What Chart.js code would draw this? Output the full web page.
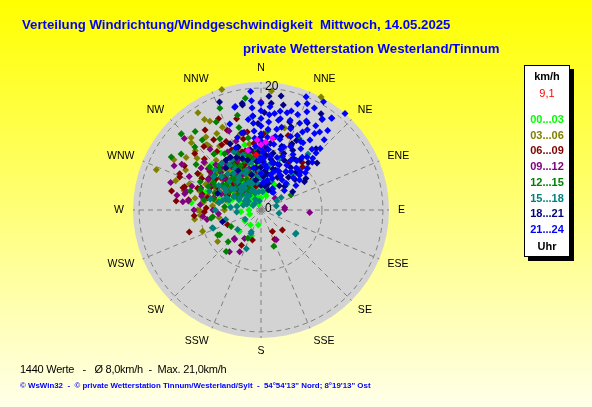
<!DOCTYPE html>
<html><head><meta charset="utf-8">
<script src="https://cdn.jsdelivr.net/npm/chart.js@4.4.1/dist/chart.umd.min.js"></script>
<style>
html,body{margin:0;padding:0;width:592px;height:407px;overflow:hidden;background:#ffff80;}
#wrap{position:relative;width:592px;height:407px;font-family:"Liberation Sans",Arial,sans-serif;}
canvas{position:absolute;left:0;top:0;z-index:0;}
.t{position:absolute;white-space:pre;line-height:1;z-index:2;}
#t1{left:22px;top:18px;font-weight:bold;font-size:13.2px;color:#0000ff;}
#t2{left:243px;top:42px;font-weight:bold;font-size:13.2px;color:#0000ff;}
#f1{left:20px;top:364px;font-size:11px;letter-spacing:-0.25px;color:#000;}
#f2{left:20px;top:382px;font-size:7.9px;font-weight:bold;color:#0000ff;}
#leg{position:absolute;left:524px;top:65px;width:44px;height:190px;border:1px solid #000;background:#fff;box-shadow:4px 4px 0 #000;z-index:2;}
#leg div{position:absolute;left:0;width:44px;text-align:center;font-size:11px;font-weight:bold;line-height:1;white-space:nowrap;}
</style></head>
<body><div id="wrap">
<canvas id="c" width="592" height="407"></canvas>
<div class="t" id="t1">Verteilung Windrichtung/Windgeschwindigkeit  Mittwoch, 14.05.2025</div>
<div class="t" id="t2">private Wetterstation Westerland/Tinnum</div>
<div class="t" id="f1">1440 Werte   -   Ø 8,0km/h  -  Max. 21,0km/h</div>
<div class="t" id="f2">© WsWin32  -  © private Wetterstation Tinnum/Westerland/Sylt  -  54°54'13" Nord; 8°19'13" Ost</div>
<div id="leg"></div>
</div>
<script>
// ---- data: [direction in degrees, speed in km/h] ----
const h00_03 = [[276,11.5],[190,2.5],[236,3.2],[345,7.6],[322,7.9],[302,10],[325,11.4],[28,4.7],[358,8.2],[11,7],[312,3.3],[265,3.3],[300,6],[305,7.5],[310,5],[315,6.5],[318,4],[320,8.5],[323,3],[327,5.5],[330,7],[333,2.5],[335,4.5],[338,6],[340,9],[342,3.5],[345,5],[348,2],[350,6.5],[352,4],[355,3],[358,5.5],[0,2],[3,4],[6,6],[10,3],[15,5],[20,2.5],[295,8],[290,5],[285,7],[280,4],[298,3],[308,9.5],[313,11],[318,10],[328,9.8],[336,10.5],[300,2],[325,1.5],[340,1],[270,2],[250,2],[215,3],[200,4.5],[225,5],[315,2.5],[332,8],[346,11],[300,12],[307,4],[312,6],[317,8],[322,5],[326,7],[331,4],[336,8],[341,5.5],[293,6.5],[303,9],[288,9.5],[283,5.5],[310,10.8],[320,12],[330,10],
 [305,3],[309,6.8],[314,4.5],[319,2],[324,6],[329,3],[334,6.5],[339,2.5],[344,4],[349,7.5],[353,5],[357,7],[2,6],[8,5],[298,4.5],[303,5.5],[308,2.5],[316,9],[321,9.5],[326,4],[331,9],[337,3],[343,8],[347,6],[296,9.5],[291,3.5]];
const h03_06 = [[342,20.8],[327,19],[328,17.5],[330,16.8],[323,15],[321,13.4],[314,15.9],[298,14],[289,14.8],[309,13.5],[269,10],[250,10.2],[234,8.8],[28,21],[48,10.3],[16,14],[5,19.6],[291,18.4],[270,10.4],[265,10],[330,14.5],[320.5,13.8],[295,10],[300,11.5],[305,9],[310,12],[315,8],[318,11],[320,6.5],[325,10],[328,7.5],[332,9],[335,12],[338,6],[340,10.5],[345,8],[350,11],[355,7],[300,7],[285,9],[280,11],[275,8],[290,12.5],[310,6],[320,14],[335,15],[345,13],[305,15],[312,14.5],[0,9],[10,12],[20,10],[260,7],[270,6],[262,11],[302,5],[308,8],[313,10],[322,8.5],[327,12.5],[333,5.5],[343,9.5],[348,6],[296,8.5],[286,6],[278,9.5],[316,16.5],[300,16.5],[284,13],
 [294,8],[299,9.5],[304,6.5],[307,7],[311,9.5],[316,5.5],[319,9],[323,6],[326,8.5],[331,5],[334,7],[339,8],[344,4.5],[349,9],[353,6.5],[358,10],[287,10.5],[281,7.5]];
const h06_09 = [[253,12.3],[286,13.3],[292,14.4],[326,13.9],[333,12.6],[337,14.2],[152,4],[155,5.3],[133,4.8],[44,9.8],[209,6.6],[196,5.1],[294,14.6],[287,13.1],[310.5,14.3],[268,9.3],[246,6],[25,11.7],[41,10.3],[295,9],[300,12],[303,7],[307,10.5],[312,12.5],[316,8],[320,10],[323,12],[327,6],[330,9],[334,11],[338,7.5],[342,10],[346,12],[350,8.5],[354,11],[358,9],[5,10],[310,6],[318,14],[300,14.5],[285,10],[278,12],[272,9],[265,11],[295,6],[305,4.5],[325,4],[340,5],[350,13],[2,12.5],[15,8],[30,9],[20,13],[345,15.5],[335,16.5],[325,16],[280,7],[290,8],[298,11],[309,8.5],[314,6.5],[321,7.5],[329,12.5],[336,9.5],[344,7],[352,6],[282,15],[276,14],
 [297,8],[301,10],[304,9],[308,6],[311,7.5],[315,10],[319,5.5],[322,9],[326,4.5],[331,7],[333,8.5],[337,5],[341,8],[345,10],[348,4],[353,9.5],[357,6],[289,11],[283,9],[293,6]];
const h09_12 = [[93,8],[84,3.9],[50,3],[153,5.5],[313,17.2],[282,12.8],[276,12.9],[217,8.6],[222,6.5],[0,17.7],[284,12.6],[310,12.2],[263.5,9.6],[270,7.9],[223,6.4],[207,7.7],[210,5.4],[88,3.9],[300,10],[305,12],[310,8],[315,10.5],[320,13],[325,7],[330,11],[335,9],[340,12],[345,6],[350,10],[355,8],[295,13],[290,10.5],[285,8],[275,10],[270,11],[280,14],[300,15],[318,6],[328,4.5],[338,14],[348,13],[358,11.5],[8,9],[265,7],[260,9],[303,7.5],[308,11],[313,9],[323,9.5],[332,6.5],[342,8.5],[292,7],[297,16],[287,15.5],
 [298,9],[302,6],[306,10],[311,5],[314,7],[317,9.5],[321,4],[326,8.5],[329,10],[334,5],[338,10],[343,7],[347,9],[352,5],[356,9.5],[289,12],[283,10],[277,12]];
const h12_15 = [[300.6,17.1],[313.6,18.1],[313.6,15],[320,15],[333,16.2],[346,16],[355,15.4],[226,7.5],[241,5.6],[63.6,5.5],[240,8.2],[260.5,8.3],[239,7.9],[220,8.9],[205,5.1],[160.5,6.3],[262,8],[28,13.3],[295,11],[300,9],[305,13],[310,11],[315,7],[320,12],[325,9],[330,13.5],[335,8],[340,11],[345,9.5],[350,12],[355,10],[0,11],[5,13],[10,9],[300,6],[310,4],[290,8],[285,12],[280,9.5],[275,6],[320,5],[335,5.5],[345,14],[320,16.8],[305,16],[302,7.5],[307,9.5],[312,5.5],[317,10],[322,7],[327,11],[332,4],[337,10],[342,6.5],[352,7],[296,5],[288,6],[338,18],[352,18.5],
 [298,8.5],[303,4.5],[306,7],[311,8.5],[314,9.5],[318,6.5],[323,4],[326,6],[329,8.5],[333,3.5],[336,7],[341,8.5],[344,5],[348,9],[353,8.5],[358,6],[3,8],[294,9.5],[289,10.5],[283,8],[315,4.5],[326,3.5],[340,3],[299,4.5]];
const h15_18 = [[125,6.9],[58,3.9],[41,7.8],[200.7,6.8],[204,3.9],[250,8.5],[249,8.4],[203,4.2],[123.5,6.9],[75,2.6],[275,5],[280,7],[285,3],[290,6],[295,4],[300,8],[305,2.5],[308,5.5],[312,7],[316,3.5],[320,6],[324,4.5],[328,8],[332,2],[336,5],[340,7],[344,3],[348,6],[352,4.5],[356,8.5],[0,6],[5,3],[10,7.5],[20,5],[30,4],[45,6],[60,3],[100,3],[290,9],[305,9.5],[320,10],[335,10.5],[265,4],[255,6],[240,3],[230,5],[300,1.5],[350,1.5],[20,9],[35,10],[40,12],[298,6.5],[303,4],[310,8.5],[318,5],[326,6.5],[330,9.5],[338,3.5],[346,8],[355,5.5],[2,9],[282,8.5],[292,2.5],[315,1.5],[270,7.5],
 [297,5],[301,7],[306,6],[309,3],[313,4.5],[317,8],[321,3],[323,7.5],[327,5],[331,7],[334,3.5],[337,6.5],[341,4.5],[345,5],[349,8],[353,3],[357,6.5],[3,5],[8,6],[13,4],[294,7.5],[287,5.5],[311,10],[325,9],[342,9.5],[299,3],[284,6.5],[278,4]];
const h18_21 = [[339,19],[350,17.5],[358,14.2],[4,18.7],[12,17.6],[32,18.6],[28,16.2],[34,17.9],[27,12.8],[28,11.1],[55,9],[57,8.5],[18,15.2],[253,6.6],[291,7.6],[10,6],[15,8],[20,7],[25,9],[30,6.5],[35,8.5],[40,7],[45,5.5],[5,9],[0,7],[355,8],[350,10],[345,6],[340,9],[335,12],[330,7.5],[325,10],[320,9],[0,12],[8,11],[15,12.5],[22,10],[38,10.5],[45,11],[50,12],[347,13],[355,15.5],[2,16],[20,14.5],[42,13.5],[48,7.5],[60,6],[0,4],[15,4.5],[30,3.5],[10,19],[5.5,17.6],[350,17.8],
 [350,5],[353,7],[357,9.5],[2,8],[6,6.5],[11,8.5],[16,7],[22,8],[27,6],[33,7.5],[37,5],[43,8.5],[4,10.5],[12,9.5],[18,11],[25,12],[32,10],[340,11],[345,8.5],[335,9.5],[330,10],[4,5.5],[9,4],[20,3.5]];
const h21_24 = [[355,19.5],[355,18],[355,16.8],[355,15.5],[355,14.3],[355,13],[355,11.8],[355,10.5],[0,17.5],[0,16.3],[0,15],[0,13.8],[0,12.5],[0,11.3],[0,10.2],[5,17],[5,15.7],[5,14.5],[5,13.3],[5,12],[5,11],[11,16.5],[11,15],[11,13.5],[11,12.3],[11,11],[346,17.5],[346,13],[19,18.4],[21.7,20],[23.5,19],[27.6,18.9],[30,20.5],[37.5,19],[41,21],[17,17],[37.7,19],[34,18],[25,17.8],[32,13],[35,14],[35,15.3],[38,11],[48,10.2],[30,13],[45,12],[50,9.5],[42,15.5],[40,17],[8,16],[12,15.3],[15,16.5],[18,15.5],[21,16.8],[24,15.6],[27,16.4],[30,15.2],[14,14],[20,14.2],[26,13.6],[15,12],[18,10.5],[22,13],[25,11.5],[28,14.5],[33,12],[36,10],[40,13],[44,14],[47,11.5],[20,11],[30,10.5],[42,9],[355,9],[0,8.5],[5,7.5],[10,9],[15,6],[20,8],[25,7],[30,8.5],[35,6],[40,9],[45,7.5],[5,4.5],[12,5],[20,5.5],[28,4],[35,3.5],[50,5],[0,6],[350,7],[345.6,17.4],[340,15],[342,12.5],[338,11],[348,10],
 [2,9.5],[7,10],[17,9],[22,9.5],[31,9.5],[46,9],[52,8],[41,11.5],[44,13],[37,16],[33,16.5],[352,15],[358,8],[3,8.5],[8,7],[13,8],[18,6.5],[23,7],[28,6.5],[33,7.5],[38,8],[43,6],[48,8.5],[55,7]];
const hLast = [[0,10.7],[4,11.2],[9,11.9],[347.6,10],[357,11.5]];
const current = [[355,9.1]];

const periods = ['00...03','03...06','06...09','09...12','12...15','15...18','18...21','21...24'];
const periodColors = ['#00ff00','#808000','#800000','#800080','#008000','#008080','#000080','#0000ff'];
const periodData = [h00_03,h03_06,h06_09,h09_12,h12_15,h15_18,h18_21,h21_24];
const compass = ['N','NNE','NE','ENE','E','ESE','SE','SSE','S','SSW','SW','WSW','W','WNW','NW','NNW'];
const ringValues = [10,20];
const ringTickLabels = ['0','20'];
const ringTickValues = [0,20];
const maxSpeed = 21;
const currentValue = '9,1';

// ---- legend (HTML text) ----
const leg = document.getElementById('leg');
function addLeg(text, top, color, bold){
  const d = document.createElement('div');
  d.textContent = text; d.style.top = top+'px'; d.style.color = color;
  if(!bold) d.style.fontWeight = 'normal';
  leg.appendChild(d);
}
addLeg('km/h', 5, '#000', true);
addLeg(currentValue, 22, '#ff0000', false);
periods.forEach((p,i)=> addLeg(p, 48 + i*15.7, periodColors[i], true));
addLeg('Uhr', 175, '#000', true);

function toXY(arr){
  return arr.map(([d,s])=>({x: s*Math.sin(d*Math.PI/180), y: s*Math.cos(d*Math.PI/180)}));
}

const datasets = [];
datasets.push({data: toXY(current), backgroundColor:'#ff0000', borderColor:'#ff0000', order:0});
datasets.push({data: toXY(hLast), backgroundColor:'#ff00ff', borderColor:'#ff00ff', order:1});
for(let i=periods.length-1;i>=0;i--){
  datasets.push({label: periods[i], data: toXY(periodData[i]), backgroundColor: periodColors[i], borderColor: periodColors[i], order: 2 + (periods.length-1-i)});
}

const polarPlugin = {
  id:'polar',
  beforeDraw(chart){
    const {ctx} = chart, x = chart.scales.x, y = chart.scales.y;
    const cx = x.getPixelForValue(0), cy = y.getPixelForValue(0);
    const R = x.getPixelForValue(maxSpeed) - cx;
    ctx.save();
    const g = ctx.createLinearGradient(0,0,0,chart.height);
    g.addColorStop(0,'#ffff00'); g.addColorStop(1,'#ffffea');
    ctx.fillStyle = g; ctx.fillRect(0,0,chart.width,chart.height);
    ctx.beginPath(); ctx.arc(cx,cy,R,0,Math.PI*2); ctx.fillStyle='#d3d3d3'; ctx.fill();
    ctx.strokeStyle='#808080'; ctx.lineWidth=1; ctx.setLineDash([5,4]);
    ringValues.forEach(v=>{
      const r = x.getPixelForValue(v)-cx;
      ctx.beginPath(); ctx.arc(cx,cy,r,0,Math.PI*2); ctx.stroke();
    });
    compass.forEach((lab,i)=>{
      const a = i*22.5*Math.PI/180;
      ctx.beginPath(); ctx.moveTo(cx,cy); ctx.lineTo(cx+R*Math.sin(a), cy-R*Math.cos(a)); ctx.stroke();
    });
    ctx.setLineDash([]);
    ctx.fillStyle='#000'; ctx.font='10.5px "Liberation Sans", Arial, sans-serif'; ctx.textBaseline='middle';
    compass.forEach((lab,i)=>{
      const a = i*22.5*Math.PI/180, s=Math.sin(a), c=Math.cos(a);
      const r = R + 9;
      ctx.textAlign = s>0.2 ? 'left' : (s<-0.2 ? 'right' : 'center');
      ctx.fillText(lab, cx + r*s, cy - r*c - 4.5*c);
    });
    ctx.restore();
  },
  afterDatasetsDraw(chart){
    const {ctx} = chart, x = chart.scales.x, y = chart.scales.y;
    const cx = x.getPixelForValue(0);
    ctx.save();
    ctx.fillStyle='#000'; ctx.font='12px "Liberation Sans", Arial, sans-serif'; ctx.textBaseline='middle'; ctx.textAlign='left';
    ringTickValues.forEach((v,i)=>{ ctx.fillText(ringTickLabels[i], cx+4, y.getPixelForValue(v)-1); });
    ctx.restore();
  }
};

new Chart(document.getElementById('c'), {
  type:'scatter',
  data:{datasets},
  options:{
    responsive:false, animation:false, devicePixelRatio:1,
    layout:{autoPadding:false, padding:{left:133, right:203, top:82, bottom:69}},
    scales:{
      x:{type:'linear', min:-maxSpeed, max:maxSpeed, display:false},
      y:{type:'linear', min:-maxSpeed, max:maxSpeed, display:false}
    },
    plugins:{legend:{display:false}, tooltip:{enabled:false}, title:{display:false}},
    elements:{point:{pointStyle:'rectRot', radius:3.5, borderWidth:0, hoverRadius:3.5}}
  },
  plugins:[polarPlugin]
});
</script>
</body></html>
